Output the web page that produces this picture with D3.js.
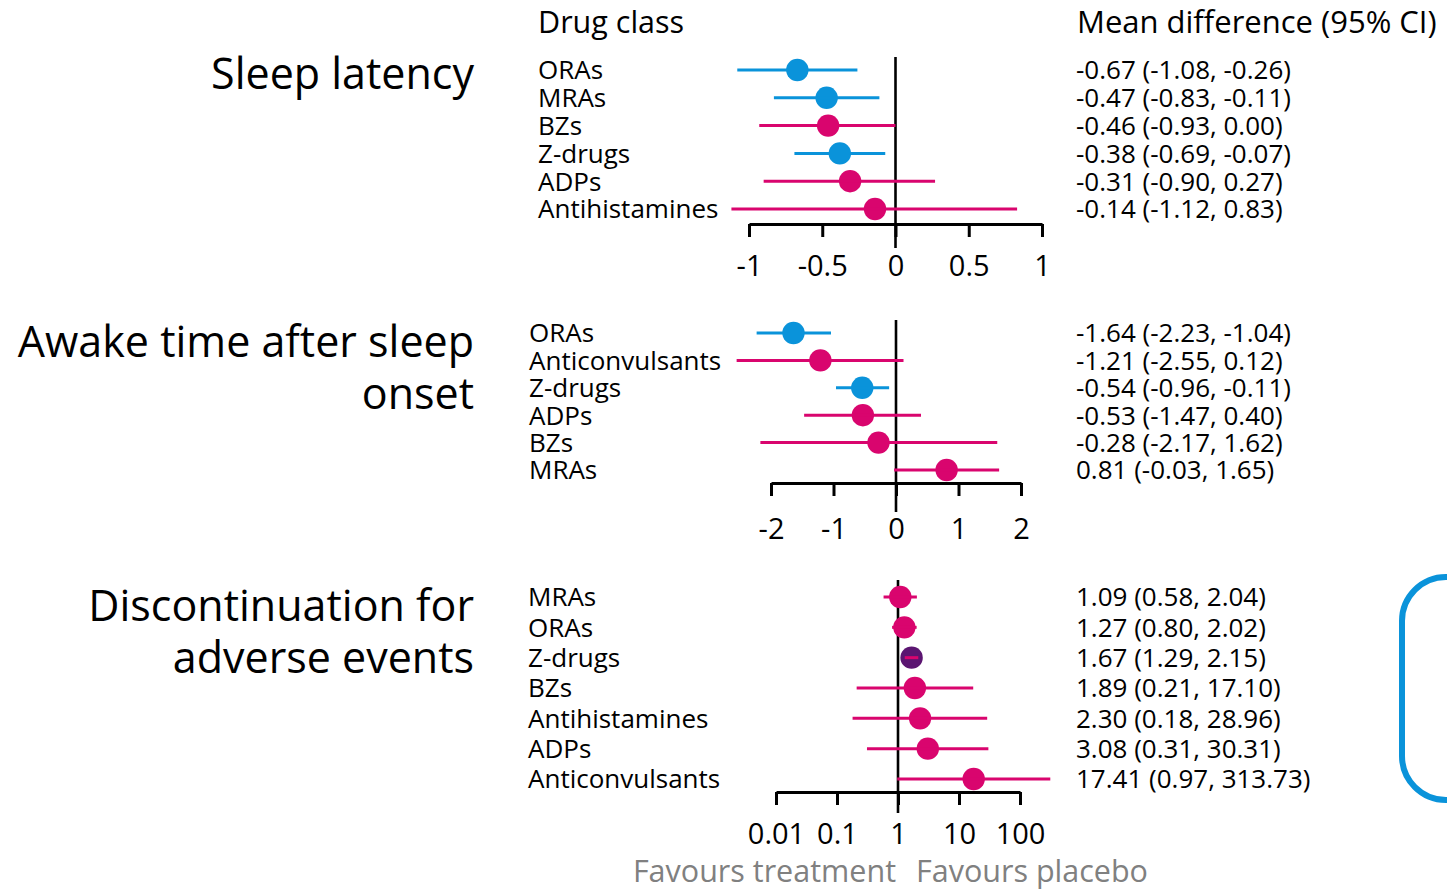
<!DOCTYPE html>
<html><head><meta charset="utf-8">
<script src="https://cdn.jsdelivr.net/npm/d3@7"></script>
<style>body{margin:0;background:#fff} svg{display:block} text{font-family:"Open Sans",sans-serif}</style>
</head><body><svg id="c" width="1447" height="891"></svg>
<script>
const BLUE="#0a93da", MAGENTA="#d9056e", PURPLE="#5b1571";

// Panel 1: Sleep latency
const drugs1=["ORAs","MRAs","BZs","Z-drugs","ADPs","Antihistamines"];
const est1=[-0.67,-0.47,-0.46,-0.38,-0.31,-0.14];
const lo1=[-1.08,-0.83,-0.93,-0.69,-0.90,-1.12];
const hi1=[-0.26,-0.11,0.00,-0.07,0.27,0.83];
const dot1=["b","b","m","b","m","m"];
const line1=["b","b","m","b","m","m"];
const ticks1=[-1,-0.5,0,0.5,1];
const tickLab1=["-1","-0.5","0","0.5","1"];

// Panel 2: Awake time after sleep onset
const drugs2=["ORAs","Anticonvulsants","Z-drugs","ADPs","BZs","MRAs"];
const est2=[-1.64,-1.21,-0.54,-0.53,-0.28,0.81];
const lo2=[-2.23,-2.55,-0.96,-1.47,-2.17,-0.03];
const hi2=[-1.04,0.12,-0.11,0.40,1.62,1.65];
const dot2=["b","m","b","m","m","m"];
const line2=["b","m","b","m","m","m"];
const ticks2=[-2,-1,0,1,2];
const tickLab2=["-2","-1","0","1","2"];

// Panel 3: Discontinuation for adverse events
const drugs3=["MRAs","ORAs","Z-drugs","BZs","Antihistamines","ADPs","Anticonvulsants"];
const est3=[1.09,1.27,1.67,1.89,2.30,3.08,17.41];
const lo3=[0.58,0.80,1.29,0.21,0.18,0.31,0.97];
const hi3=[2.04,2.02,2.15,17.10,28.96,30.31,313.73];
const dot3=["m","m","p","m","m","m","m"];
const line3=["m","m","m","m","m","m","m"];
const ticks3=[0.01,0.1,1,10,100];
const tickLab3=["0.01","0.1","1","10","100"];

const titles=[["Sleep latency"],["Awake time after sleep","onset"],["Discontinuation for","adverse events"]];
const headers=["Drug class","Mean difference (95% CI)"];
const favours=["Favours treatment","Favours placebo"];

const COL={b:BLUE,m:MAGENTA,p:PURPLE};
const svg=d3.select("#c");

const panels=[
 {drugs:drugs1,est:est1,lo:lo1,hi:hi1,dot:dot1,line:line1,ticks:ticks1,lab:tickLab1,
  x:d3.scaleLinear().domain([-1,1]).range([749,1042]),rows:[70,209],axisY:224,zTop:57,zBot:248,labX:538,pad:18,ref:0,
  title:titles[0],tY:[89]},
 {drugs:drugs2,est:est2,lo:lo2,hi:hi2,dot:dot2,line:line2,ticks:ticks2,lab:tickLab2,
  x:d3.scaleLinear().domain([-2,2]).range([771,1021]),rows:[333,470],axisY:483,zTop:320,zBot:512,labX:529,pad:22,ref:0,
  title:titles[1],tY:[357,409]},
 {drugs:drugs3,est:est3,lo:lo3,hi:hi3,dot:dot3,line:line3,ticks:ticks3,lab:tickLab3,
  x:d3.scaleLog().domain([0.01,100]).range([776,1020]),rows:[597,779],axisY:792,zTop:580,zBot:813,labX:528,pad:18,ref:1,
  title:titles[2],tY:[621,673]}
];

svg.append("text").attr("x",538).attr("y",33).attr("font-size",30.5).text(headers[0]);
svg.append("text").attr("x",1077).attr("y",33).attr("font-size",31).text(headers[1]);

panels.forEach(p=>{
  const y=d3.scalePoint().domain(p.drugs).range(p.rows);
  const g=svg.append("g");
  p.title.forEach((t,i)=>g.append("text").attr("x",474).attr("y",p.tY[i]).attr("text-anchor","end").attr("font-size",43).text(t));
  const ax=g.append("g").attr("transform",`translate(0,${p.axisY})`)
    .call(d3.axisBottom(p.x).tickValues(p.ticks).tickFormat((d,i)=>p.lab[i]).tickSize(13).tickSizeOuter(0).tickPadding(p.pad));
  ax.select(".domain").attr("stroke","#000").attr("stroke-width",3);
  ax.selectAll(".tick line").attr("stroke","#000").attr("stroke-width",3);
  ax.selectAll(".tick text").attr("font-size",29).attr("fill","#000").attr("font-family","Open Sans");
  g.append("line").attr("x1",p.x(p.ref)).attr("x2",p.x(p.ref)).attr("y1",p.zTop).attr("y2",p.zBot)
    .attr("stroke","#000").attr("stroke-width",2.6);
  const idx=d3.range(p.drugs.length);
  g.selectAll("circle").data(idx).join("circle")
    .attr("cx",i=>p.x(p.est[i])).attr("cy",i=>y(p.drugs[i])).attr("r",11.2).attr("fill",i=>COL[p.dot[i]]);
  g.selectAll("line.ci").data(idx).join("line").attr("class","ci")
    .attr("x1",i=>p.x(p.lo[i])).attr("x2",i=>p.x(p.hi[i]))
    .attr("y1",i=>y(p.drugs[i])).attr("y2",i=>y(p.drugs[i]))
    .attr("stroke",i=>COL[p.line[i]]).attr("stroke-width",3);
  g.selectAll("text.lab").data(idx).join("text").attr("class","lab")
    .attr("x",p.labX).attr("y",i=>y(p.drugs[i])).attr("dy","0.36em").attr("font-size",26).text(i=>p.drugs[i]);
  g.selectAll("text.val").data(idx).join("text").attr("class","val")
    .attr("x",1076).attr("y",i=>y(p.drugs[i])).attr("dy","0.36em").attr("font-size",26)
    .text(i=>`${p.est[i].toFixed(2)} (${p.lo[i].toFixed(2)}, ${p.hi[i].toFixed(2)})`);
});

svg.append("text").attr("x",896).attr("y",882).attr("text-anchor","end").attr("font-size",30.5).attr("fill","#808080").text(favours[0]);
svg.append("text").attr("x",916).attr("y",882).attr("font-size",30.5).attr("fill","#808080").text(favours[1]);

svg.append("rect").attr("x",1402).attr("y",577).attr("width",200).attr("height",223).attr("rx",44)
  .attr("fill","none").attr("stroke",BLUE).attr("stroke-width",6);
</script></body></html>
